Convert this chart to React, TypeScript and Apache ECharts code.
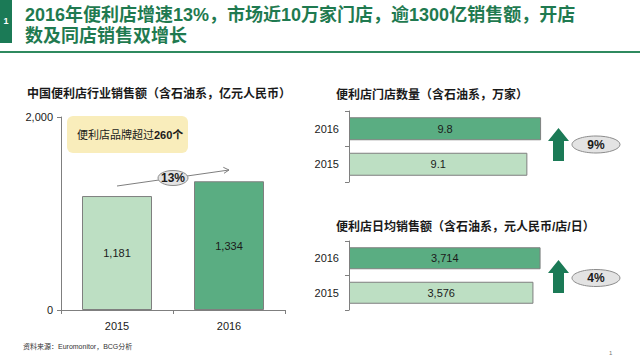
import React, { useEffect, useRef } from "react";
import * as echarts from "echarts";

const salesYears = ["2015", "2016"];
const salesValues = [1181, 1334];
const storeYears = ["2015", "2016"];
const storeValues = [9.1, 9.8];
const dailyYears = ["2015", "2016"];
const dailyValues = [3576, 3714];
const salesTicks = [0, 2000];

const LIGHT = "#bddfc3";
const DARK = "#5aad82";
const BORDER = "#7f7f7f";
const TEXT = "#1a1a1a";
const GREEN = "#1b7a56";
const FONT = "Arial, 'Liberation Sans', 'Noto Sans CJK SC', sans-serif";

const fmt = (v: number) => v.toLocaleString("en-US");

export default function App() {
  const ref = useRef<HTMLDivElement>(null);
  useEffect(() => {
    document.body.style.margin = "0";
    const chart = echarts.init(ref.current!, null, { renderer: "svg" });
    const barItem = (colors: string[]) => (p: any) => colors[p.dataIndex];
    const label = (f: (v: number) => string) => ({
      show: true,
      position: "inside",
      color: TEXT,
      fontSize: 11,
      fontFamily: FONT,
      formatter: (p: any) => f(p.value),
    });
    const catAxisH = {
      type: "category",
      axisLine: { lineStyle: { color: BORDER } },
      axisTick: { show: true, length: 4, lineStyle: { color: BORDER } },
      axisLabel: { color: TEXT, fontSize: 11, fontFamily: FONT, margin: 10 },
    };
    const arrow = (top: number) => ({
      type: "polygon",
      shape: {
        points: [
          [558.5, top],
          [569, top + 13],
          [564, top + 13],
          [564, top + 33],
          [553, top + 33],
          [553, top + 13],
          [548, top + 13],
        ],
      },
      style: { fill: GREEN },
    });
    const pill = (cx: number, cy: number, t: string, rx = 24, ry = 8.5) => [
      {
        type: "ellipse",
        shape: { cx, cy, rx, ry },
        style: { fill: "#e3e3e3", stroke: "#8c8c8c", lineWidth: 1 },
      },
      {
        type: "text",
        x: cx,
        y: cy,
        style: {
          text: t,
          fill: TEXT,
          font: `bold 12px ${FONT}`,
          align: "center",
          verticalAlign: "middle",
        },
      },
    ];
    chart.setOption({
      animation: false,
      grid: [
        { left: 61, top: 117, width: 224, height: 193 },
        { left: 349, top: 111, width: 196, height: 71 },
        { left: 349, top: 241, width: 196, height: 69 },
      ],
      xAxis: [
        { ...catAxisH, gridIndex: 0, data: salesYears, axisLabel: { ...catAxisH.axisLabel, margin: 10 } },
        { type: "value", gridIndex: 1, min: 0, max: 10, show: false },
        { type: "value", gridIndex: 2, min: 0, max: 3800, show: false },
      ],
      yAxis: [
        {
          type: "value",
          gridIndex: 0,
          min: salesTicks[0],
          max: salesTicks[1],
          interval: 2000,
          splitLine: { show: false },
          axisLine: { show: true, lineStyle: { color: BORDER } },
          axisTick: { show: true, length: 4, lineStyle: { color: BORDER } },
          axisLabel: { color: TEXT, fontSize: 11, fontFamily: FONT, margin: 8, formatter: (v: number) => fmt(v) },
        },
        { ...catAxisH, gridIndex: 1, data: storeYears },
        { ...catAxisH, gridIndex: 2, data: dailyYears },
      ],
      series: [
        {
          type: "bar",
          xAxisIndex: 0,
          yAxisIndex: 0,
          data: salesValues,
          barWidth: 70,
          itemStyle: { color: barItem([LIGHT, DARK]), borderColor: BORDER, borderWidth: 1 },
          label: label(fmt),
        },
        {
          type: "bar",
          xAxisIndex: 1,
          yAxisIndex: 1,
          data: storeValues,
          barWidth: 23,
          itemStyle: { color: barItem([LIGHT, DARK]), borderColor: BORDER, borderWidth: 1 },
          label: label((v) => v.toFixed(1)),
        },
        {
          type: "bar",
          xAxisIndex: 2,
          yAxisIndex: 2,
          data: dailyValues,
          barWidth: 22,
          itemStyle: { color: barItem([LIGHT, DARK]), borderColor: BORDER, borderWidth: 1 },
          label: label(fmt),
        },
      ],
      graphic: [
        { type: "rect", shape: { x: 0, y: 0, width: 12, height: 43 }, style: { fill: GREEN } },
        {
          type: "text",
          x: 6,
          y: 21,
          style: { text: "1", fill: "#fff", font: `bold 9px ${FONT}`, align: "center", verticalAlign: "middle" },
        },
        {
          type: "text",
          x: 25,
          y: 4,
          style: {
            text: "2016年便利店增速13%，市场近10万家门店，逾1300亿销售额，开店\n数及同店销售双增长",
            fill: "#1f7a50",
            font: `bold 18px ${FONT}`,
            lineHeight: 21,
          },
        },
        { type: "rect", shape: { x: 0, y: 51, width: 640, height: 2 }, style: { fill: "#2f8a5f" } },
        {
          type: "text",
          x: 27,
          y: 94,
          style: {
            text: "中国便利店行业销售额（含石油系，亿元人民币）",
            fill: TEXT,
            font: `bold 12px ${FONT}`,
            verticalAlign: "middle",
          },
        },
        {
          type: "text",
          x: 336,
          y: 95,
          style: {
            text: "便利店门店数量（含石油系，万家）",
            fill: TEXT,
            font: `bold 12px ${FONT}`,
            verticalAlign: "middle",
          },
        },
        {
          type: "text",
          x: 336,
          y: 227,
          style: {
            text: "便利店日均销售额（含石油系，元人民币/店/日）",
            fill: TEXT,
            font: `bold 12px ${FONT}`,
            verticalAlign: "middle",
          },
        },
        { type: "rect", shape: { x: 67, y: 116, width: 121, height: 37, r: 6 }, style: { fill: "#f9edbb" } },
        {
          type: "text",
          x: 77,
          y: 135,
          style: {
            text: "{n|便利店品牌超过}{b|260个}",
            verticalAlign: "middle",
            rich: {
              n: { fill: TEXT, font: `11px ${FONT}` },
              b: { fill: TEXT, font: `bold 11px ${FONT}` },
            },
          },
        },
        {
          type: "line",
          shape: { x1: 117, y1: 186, x2: 229, y2: 170 },
          style: { stroke: "#7f7f7f", lineWidth: 1 },
        },
        {
          type: "polyline",
          shape: { points: [[223.3, 167.3], [229, 170], [224, 173.3]] },
          style: { stroke: "#7f7f7f", lineWidth: 1, fill: null },
        },
        ...pill(173, 178, "13%", 15, 7.5),
        arrow(128),
        ...pill(596, 144.5, "9%"),
        arrow(260),
        ...pill(596, 278, "4%"),
        {
          type: "text",
          x: 23,
          y: 346,
          style: {
            text: "资料来源：Euromonitor，BCG分析",
            fill: "#333",
            font: `7px ${FONT}`,
            verticalAlign: "middle",
          },
        },
        {
          type: "text",
          x: 609,
          y: 353,
          style: { text: "1", fill: "#777", font: `6px ${FONT}`, verticalAlign: "middle" },
        },
      ],
    });
    return () => chart.dispose();
  }, []);
  return (
    <div
      ref={ref}
      style={{ position: "fixed", left: 0, top: 0, width: 640, height: 360, background: "#fff" }}
    />
  );
}
